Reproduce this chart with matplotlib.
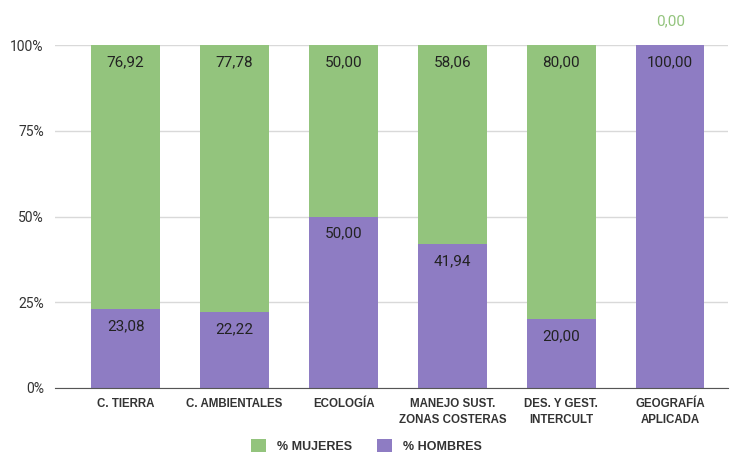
import matplotlib.pyplot as plt
import numpy as np

categories = ["C. TIERRA", "C. AMBIENTALES", "ECOLOGÍA", "MANEJO SUST.\nZONAS COSTERAS",
              "DES. Y GEST.\nINTERCULT", "GEOGRAFÍA\nAPLICADA"]
hombres = [23.08, 22.22, 50.00, 41.94, 20.00, 100.00]
mujeres = [76.92, 77.78, 50.00, 58.06, 80.00, 0.00]
yticks = [0, 25, 50, 75, 100]

green = "#93c47d"
purple = "#8e7cc3"
label_font = ['Liberation Sans', 'DejaVu Sans']

plt.rcParams['font.family'] = ['Roboto', 'DejaVu Sans']

fig = plt.figure(figsize=(7.33, 4.53), dpi=100)
ax = fig.add_axes([0.075, 0.1435, 0.918, 0.757])

x = np.arange(len(categories))
w = 0.63
ax.bar(x, hombres, w, color=purple, label="% HOMBRES", zorder=2)
ax.bar(x, mujeres, w, bottom=hombres, color=green, label="% MUJERES", zorder=2)

def fmt(v):
    return f"{v:.2f}".replace(".", ",")

# value labels near the top of each segment
for i in range(len(categories)):
    ax.text(x[i], hombres[i] - 5, fmt(hombres[i]), ha="center", va="center",
            fontsize=11, color="#222222", zorder=3)
    if mujeres[i] > 0:
        ax.text(x[i], 100 - 5, fmt(mujeres[i]), ha="center", va="center",
                fontsize=11, color="#222222", zorder=3)
    else:
        ax.text(x[i], 107, fmt(mujeres[i]), ha="center", va="center",
                fontsize=11, color=green, zorder=3, clip_on=False)

ax.set_xlim(-0.65, 5.53)
ax.set_ylim(0, 100)
ax.set_yticks(yticks)
ax.set_yticklabels([f"{t}%" for t in yticks], fontsize=10, color="#333333")
ax.yaxis.grid(True, color="#d9d9d9", lw=1, zorder=0)
ax.tick_params(axis="both", length=0)
ax.tick_params(axis="y", pad=8)
ax.set_xticks(x)
ax.set_xticklabels(categories, fontsize=8.3, fontweight="bold", color="#333333",
                   family=label_font, linespacing=1.5)
ax.tick_params(axis="x", pad=7)
for s in ["top", "right", "left"]:
    ax.spines[s].set_visible(False)
ax.spines["bottom"].set_color("#555555")
ax.spines["bottom"].set_zorder(4)

handles, labels = ax.get_legend_handles_labels()
leg = fig.legend(handles[::-1], labels[::-1], loc="center",
                 ncol=2, frameon=False, handlelength=1.15, handleheight=1.15,
                 columnspacing=2.0, handletextpad=0.9,
                 prop={"family": label_font, "weight": "bold", "size": 9})
leg.set_bbox_to_anchor((0.5, 1 - 446 / 453), transform=fig.transFigure)
for t in leg.get_texts():
    t.set_color("#333333")

fig.savefig("out.png", dpi=100)
